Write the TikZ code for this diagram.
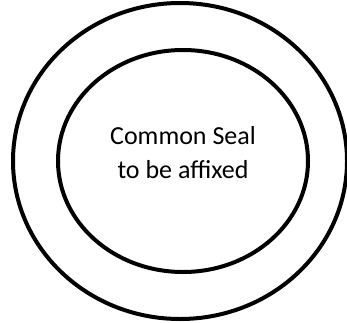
\documentclass[tikz,border=0pt]{standalone}
\usepackage{fontspec}
\setmainfont{Carlito}
\usetikzlibrary{shapes.geometric}

\begin{document}
\begin{tikzpicture}[
  x=1pt, y=1pt,
  align=center,
  seal/.style={draw, ellipse, line width=4pt, inner sep=0pt}
]
\useasboundingbox (0,0) rectangle (347,322);

% 外圈
\node (outer) [seal, minimum width=334pt, minimum height=316pt] at (180,161) {};
% 内圈
\node (inner) [seal, minimum width=250pt, minimum height=222pt] at (183,161) {};
% 文字
\node (label) [font=\fontsize{26}{34}\selectfont] at ([yshift=8pt]inner.center) {Common Seal\\to be affixed};
\end{tikzpicture}
\end{document}
